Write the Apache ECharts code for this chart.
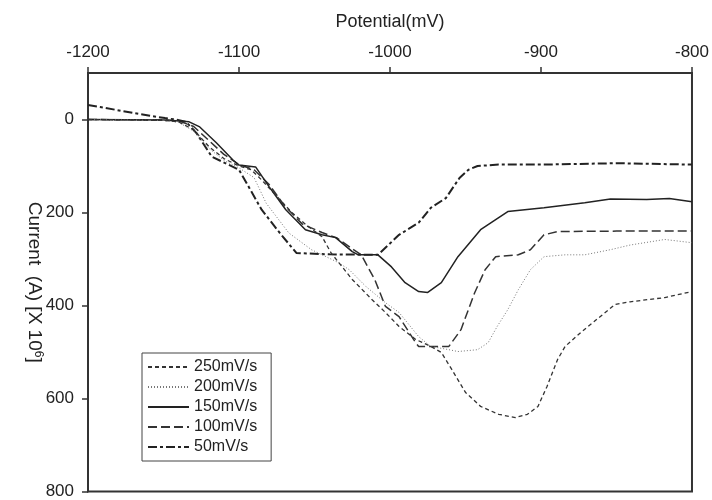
<!DOCTYPE html>
<html>
<head>
<meta charset="utf-8">
<script src="https://cdn.jsdelivr.net/npm/echarts@6/dist/echarts.min.js"></script>
<style>html,body{margin:0;padding:0;background:#fff}#c{width:712px;height:500px}</style>
</head>
<body>
<div id="c"></div>
<script>
const seriesNames = ['250mV/s', '200mV/s', '150mV/s', '100mV/s', '50mV/s'];
const xTicks = [-1200, -1100, -1000, -900, -800];
const yTicks = [0, 200, 400, 600, 800];

const s250 = [[-1200,0],[-1170,1],[-1150,2],[-1140,5],[-1130,22],[-1120,58],[-1110,84],[-1100,100],[-1092,108],[-1085,130],[-1075,165],[-1065,200],[-1055,228],[-1045,252],[-1039,287],[-1025,344],[-1012,387],[-1003,415],[-994,445],[-983,473],[-973,488],[-966,501],[-959,538],[-950,587],[-940,617],[-928,634],[-917,641],[-909,634],[-902,617],[-896,574],[-889,516],[-884,488],[-874,459],[-865,435],[-851,398],[-841,392],[-818,383],[-800,370]];
const s200 = [[-1200,0],[-1150,2],[-1140,6],[-1130,25],[-1120,62],[-1110,88],[-1100,104],[-1090,125],[-1082,180],[-1067,244],[-1052,280],[-1034,308],[-1027,323],[-1016,359],[-1003,394],[-994,415],[-981,467],[-973,488],[-961,495],[-955,499],[-942,495],[-935,480],[-929,445],[-922,409],[-915,366],[-907,323],[-898,295],[-884,291],[-871,291],[-854,280],[-841,270],[-818,258],[-800,265]];
const s150 = [[-1200,0],[-1149,1],[-1133,5],[-1126,16],[-1115,50],[-1104,87],[-1100,98],[-1089,102],[-1080,145],[-1069,194],[-1056,237],[-1045,248],[-1036,254],[-1025,284],[-1021,291],[-1008,291],[-999,317],[-990,351],[-981,370],[-975,372],[-966,351],[-955,295],[-940,237],[-922,198],[-898,190],[-871,179],[-854,171],[-830,172],[-815,170],[-800,177]];
const s100 = [[-1200,0],[-1150,1],[-1140,3],[-1130,15],[-1120,45],[-1110,75],[-1100,97],[-1090,108],[-1080,140],[-1070,185],[-1058,225],[-1045,243],[-1035,255],[-1025,278],[-1019,291],[-1010,345],[-1003,402],[-994,424],[-983,480],[-981,488],[-961,488],[-953,452],[-944,373],[-937,323],[-930,295],[-915,291],[-907,280],[-898,248],[-889,241],[-850,240],[-800,240]];
const s50 = [[-1200,-31],[-1192,-27],[-1182,-21],[-1170,-14],[-1159,-8],[-1149,-3],[-1142,0],[-1135,5],[-1128,30],[-1118,80],[-1100,108],[-1085,194],[-1073,244],[-1062,287],[-1040,290],[-1008,291],[-994,248],[-981,222],[-973,190],[-963,169],[-958,145],[-954,126],[-948,108],[-942,100],[-928,97],[-900,97],[-850,94],[-800,97]];

const seriesData = [s250, s200, s150, s100, s50];
const styles = [
  {type: [4, 3], width: 1.3, color: '#333'},
  {type: [1, 2], width: 1, color: '#777'},
  {type: 'solid', width: 1.5, color: '#222'},
  {type: [9, 4], width: 1.5, color: '#333'},
  {type: [9, 3, 3, 3], width: 2, color: '#222'}
];
const font = 'Liberation Sans, Arial, sans-serif';

const chart = echarts.init(document.getElementById('c'), null, {renderer: 'canvas'});
chart.setOption({
  animation: false,
  backgroundColor: '#fff',
  grid: {left: 88, right: 17, top: 73, bottom: 8, show: true, borderColor: '#333', borderWidth: 2, backgroundColor: 'transparent'},
  legend: {
    show: true, orient: 'vertical', left: 142, top: 353,
    data: seriesNames,
    itemWidth: 41, itemHeight: 14, itemGap: 2,
    padding: [5, 14, 5, 5],
    borderColor: '#444', borderWidth: 1, backgroundColor: '#fff',
    itemStyle: {opacity: 0},
    textStyle: {fontFamily: font, fontSize: 16, color: '#222', lineHeight: 18}
  },
  xAxis: {
    type: 'value', position: 'top', min: -1200, max: -800, interval: 100,
    name: 'Potential(mV)', nameLocation: 'middle', nameGap: 42,
    nameTextStyle: {fontFamily: font, fontSize: 18, color: '#222'},
    axisLine: {show: true, onZero: false, lineStyle: {color: '#333', width: 2}},
    axisTick: {show: true, length: 6, lineStyle: {color: '#333', width: 1.5}},
    axisLabel: {fontFamily: font, fontSize: 17, color: '#222', margin: 12, formatter: v => String(v)},
    splitLine: {show: false}
  },
  yAxis: {
    type: 'value', inverse: true, min: -100, max: 800,
    name: 'Current  (A) [X 10{s|6}]', nameLocation: 'middle', nameRotate: -90, nameGap: 44,
    nameMoveOverlap: false,
    nameTextStyle: {fontFamily: font, fontSize: 19, color: '#222', rich: {s: {fontFamily: font, fontSize: 12, verticalAlign: 'top', color: '#222', padding: [0,0,8,0]}}},
    axisLine: {show: true, onZero: false, lineStyle: {color: '#333', width: 2}},
    axisTick: {show: true, length: 6, lineStyle: {color: '#333', width: 1.5}, customValues: yTicks},
    axisLabel: {fontFamily: font, fontSize: 17, color: '#222', margin: 14, customValues: yTicks, formatter: v => String(v)},
    splitLine: {show: false}
  },
  series: seriesNames.map((n, i) => ({
    name: n, type: 'line', data: seriesData[i], showSymbol: false, symbol: 'none',
    lineStyle: styles[i], itemStyle: {color: styles[i].color}, z: 5 - i
  }))
});
</script>
</body>
</html>
